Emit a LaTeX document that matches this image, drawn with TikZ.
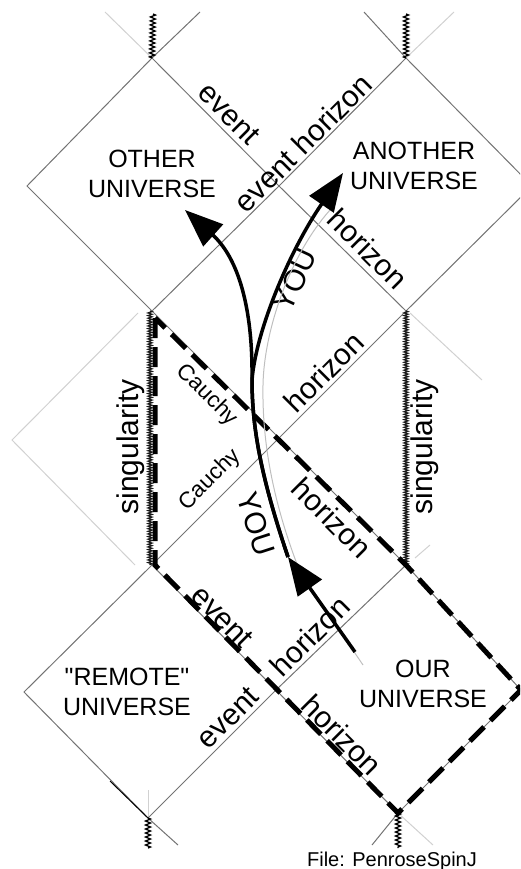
\documentclass[tikz,border=0pt]{standalone}
\usepackage{fontspec}
\setmainfont{Liberation Sans}[Ligatures=TeXOff]
\usetikzlibrary{arrows.meta,decorations.pathmorphing}

\begin{document}
\begin{tikzpicture}[
    x=1pt, y=-1pt,
    edge/.style={draw=black!55, line width=1pt},
    faint/.style={draw=black!18, line width=1pt},
    sing/.style={draw=black!90, line width=1.2pt, decorate, decoration={zigzag, segment length=2.6pt, amplitude=2pt}},
    stub/.style={draw=black, line width=1.3pt, decorate, decoration={zigzag, segment length=4pt, amplitude=2.5pt}},
    region/.style={draw=black, line width=5pt, dash pattern=on 20pt off 9pt},
    you/.style={draw=black, line width=3.5pt},
    youarrow/.style={you, -{Triangle[length=38pt, width=29pt]}},
    ghost/.style={draw=black!25, line width=1pt},
    uni/.style={align=center, font=\fontsize{25}{30}\selectfont, inner sep=0pt},
    lbl/.style={font=\fontsize{30}{35}\selectfont, inner sep=0pt},
    small/.style={font=\fontsize{22.5}{26}\selectfont, inner sep=0pt}
]
\useasboundingbox (0,0) rectangle (520,869);
\clip (0,0) rectangle (520,869);

% Vertices of the diagram
\coordinate (TL) at (152,58);   \coordinate (TR) at (406,58);
\coordinate (OL) at (27,186);   \coordinate (C1) at (279,186);  \coordinate (AR) at (532,186);
\coordinate (ML) at (152,311);  \coordinate (MR) at (406,311);
\coordinate (C2) at (279,438);
\coordinate (BL) at (152,565);  \coordinate (BR) at (406,565);
\coordinate (RL) at (24,692);   \coordinate (C3) at (276,690);  \coordinate (UR) at (521,690);
\coordinate (BBL) at (148,818); \coordinate (BBR) at (398,813);

% Faint copies
\draw[faint] (TL) -- (105,12);
\draw[faint] (TR) -- (454,12);
\draw[faint] (138,313) -- (12,440) -- (135,565);
\draw[faint] (410,313) -- (482,380);
\draw[faint] (415,558) -- (430,545);
\draw[faint] (148,790) -- (BBL);
\draw[faint] (BBR) -- (433,845);

% Lattice lines
\draw[edge] (TL) -- (200,12);
\draw[edge] (TR) -- (364,12);
\draw[edge] (OL) -- (TL) -- (C1) -- (MR) -- (AR) -- (TR) -- (C1) -- (ML) -- cycle;
\draw[edge] (ML) -- (C2) -- (BR);
\draw[edge] (MR) -- (C2) -- (BL);
\draw[edge] (BL) -- (C3) -- (BBL) -- (RL) -- cycle;
\draw[edge] (BR) -- (UR) -- (BBR) -- (C3) -- cycle;
\draw[edge] (BBL) -- (178,845);
\draw[edge] (BBR) -- (372,845);
\draw[black, line width=1pt] (110,781) -- (BBL);

% Singularities
\draw[stub] (153,14) -- (TL);
\draw[stub] (406,14) -- (TR);
\draw[sing] (150,311) -- (150,565);
\draw[sing] (406,311) -- (406,565);
\draw[stub] (BBL) -- (148,848);
\draw[stub] (BBR) -- (398,848);

% Dashed region
\draw[region] (155,318) -- (155,565) -- (BBR) -- (UR) -- (BR) -- cycle;

% Universes
\node[uni] (other) at (152,174) {OTHER\\UNIVERSE};
\node[uni] (another) at (414,166) {ANOTHER\\UNIVERSE};
\node[uni] (remote) at (127,692) {"REMOTE"\\UNIVERSE};
\node[uni] (our) at (423,684) {OUR\\UNIVERSE};

% Labels along the lines
\node[lbl, rotate=-45] (ev1) at (229,114) {event};
\node[lbl, rotate=45] (evh1) at (303,143) {event horizon};
\node[lbl, rotate=-45] (hor1) at (368,249) {horizon};
\node[lbl, rotate=65] (you1) at (295,280) {YOU};
\node[small, rotate=-45] (cau1) at (207,395) {Cauchy};
\node[lbl, rotate=45] (hor2) at (324,372) {horizon};
\node[small, rotate=45] (cau2) at (210,480) {Cauchy};
\node[lbl, rotate=-45] (hor3) at (332,518) {horizon};
\node[lbl, rotate=90] (sing1) at (131,447) {singularity};
\node[lbl, rotate=90] (sing2) at (425,447) {singularity};
\node[lbl, rotate=-72] (you2) at (256,524) {YOU};
\node[lbl, rotate=-45] (ev2) at (222,617) {event};
\node[lbl, rotate=45] (hor4) at (310,636) {horizon};
\node[lbl, rotate=45] (ev3) at (228,718) {event};
\node[lbl, rotate=-45] (hor5) at (342,735) {horizon};

% Worldline
\coordinate (start) at (355,652);
\coordinate (lowtip) at (288,557);
\coordinate (split) at (252,380);
\coordinate (tipL) at (185,210);
\coordinate (tipR) at (343,173);
\draw[ghost] (363,665) -- (300,572) .. controls (272,500) and (262,440) .. (263,385) .. controls (264,330) and (290,255) .. (330,210);
\draw[youarrow] (start) -- (lowtip);
\draw[youarrow] (lowtip) .. controls (262,480) and (252,430) .. (split) .. controls (253,300) and (235,255) .. (tipL);
\draw[youarrow] (lowtip) .. controls (262,480) and (252,430) .. (split) .. controls (256,330) and (290,250) .. (tipR);

\node[font=\fontsize{20}{24}\selectfont, anchor=base, inner sep=0pt] (file) at (392,866) {File: PenroseSpinJ};

\end{tikzpicture}
\end{document}
